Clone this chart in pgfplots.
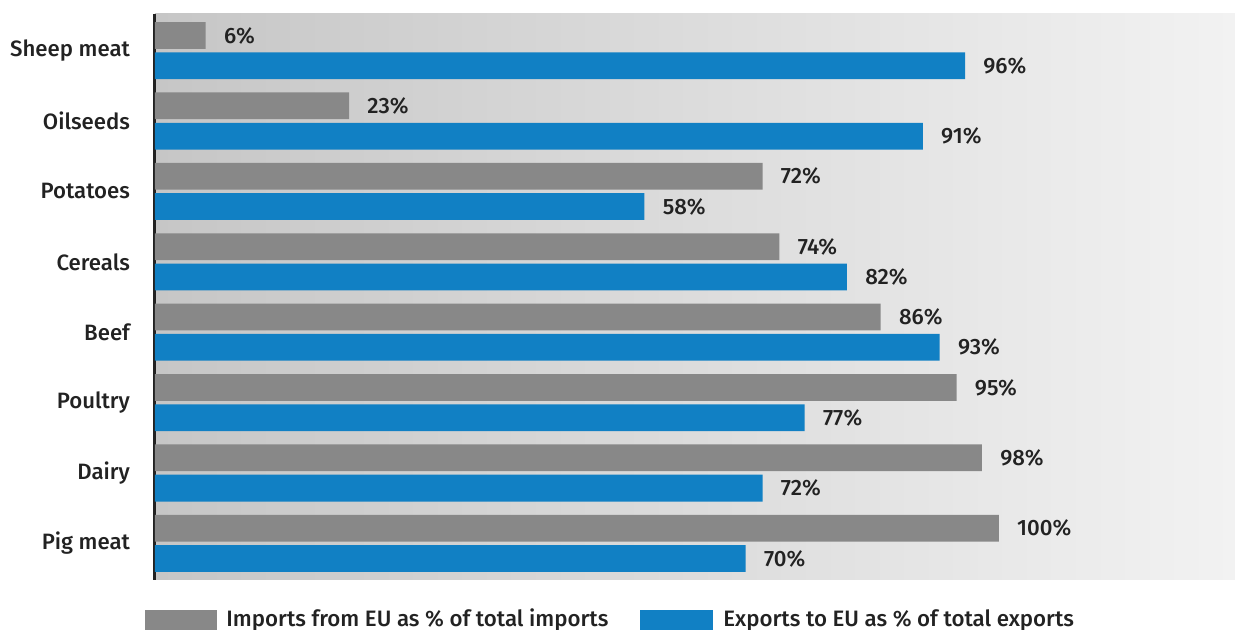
\documentclass[border=0pt]{standalone}
\usepackage{fontspec}
\setmainfont{Fira Sans}[UprightFont=* Medium, BoldFont=* SemiBold]
\usepackage{pgfplots}
\pgfplotsset{compat=1.18}
\definecolor{impgray}{HTML}{888888}
\definecolor{expblue}{HTML}{1180C4}
\definecolor{txt}{HTML}{222222}
\definecolor{bgleft}{HTML}{C6C6C6}
\definecolor{bgright}{HTML}{F2F2F2}
\begin{document}
\begin{tikzpicture}
\useasboundingbox (0,0) rectangle (617.5pt,315pt);
\begin{axis}[
  at={(77.5pt,25pt)}, anchor=south west,
  width=540pt, height=283pt, scale only axis,
  xmin=0, xmax=128, ymin=-0.52, ymax=7.52,
  axis background/.style={left color=bgleft, right color=bgright, shading angle=90},
  axis x line=none,
  axis y line*=left,
  y axis line style={line width=1.5pt, color=txt, -},
  ytick={0,...,7},
  yticklabels={Pig meat,Dairy,Poultry,Beef,Cereals,Potatoes,Oilseeds,Sheep meat},
  major tick length=0pt,
  yticklabel style={font=\fontsize{11.1}{13}\selectfont, text=txt, xshift=-9pt},
  /pgf/number format/assume math mode=true,
  xbar, bar width=0.38,
  nodes near coords={\pgfmathprintnumber\pgfplotspointmeta\%},
  nodes near coords style={font=\fontsize{11.1}{13}\selectfont, text=txt, anchor=west, inner sep=0pt, xshift=9pt, /pgf/number format/assume math mode=true},
  clip=false,
]
\addplot[fill=impgray, draw=none, bar shift=0.215] coordinates {
(100,0) (98,1) (95,2) (86,3) (74,4) (72,5) (23,6) (6,7)};
\addplot[fill=expblue, draw=none, bar shift=-0.215] coordinates {
(70,0) (72,1) (77,2) (93,3) (82,4) (58,5) (91,6) (96,7)};
\end{axis}
\fill[impgray] (72.5pt,-2pt) rectangle (108.5pt,10pt);
\node[anchor=base west, inner sep=0pt, text=txt, font=\fontsize{11.15}{13}\selectfont] at (113pt,1.8pt) {Imports from EU as \% of total imports};
\fill[expblue] (320pt,-2pt) rectangle (356.5pt,10pt);
\node[anchor=base west, inner sep=0pt, text=txt, font=\fontsize{11.15}{13}\selectfont] at (361.5pt,1.8pt) {Exports to EU as \% of total exports};
\end{tikzpicture}
\end{document}
